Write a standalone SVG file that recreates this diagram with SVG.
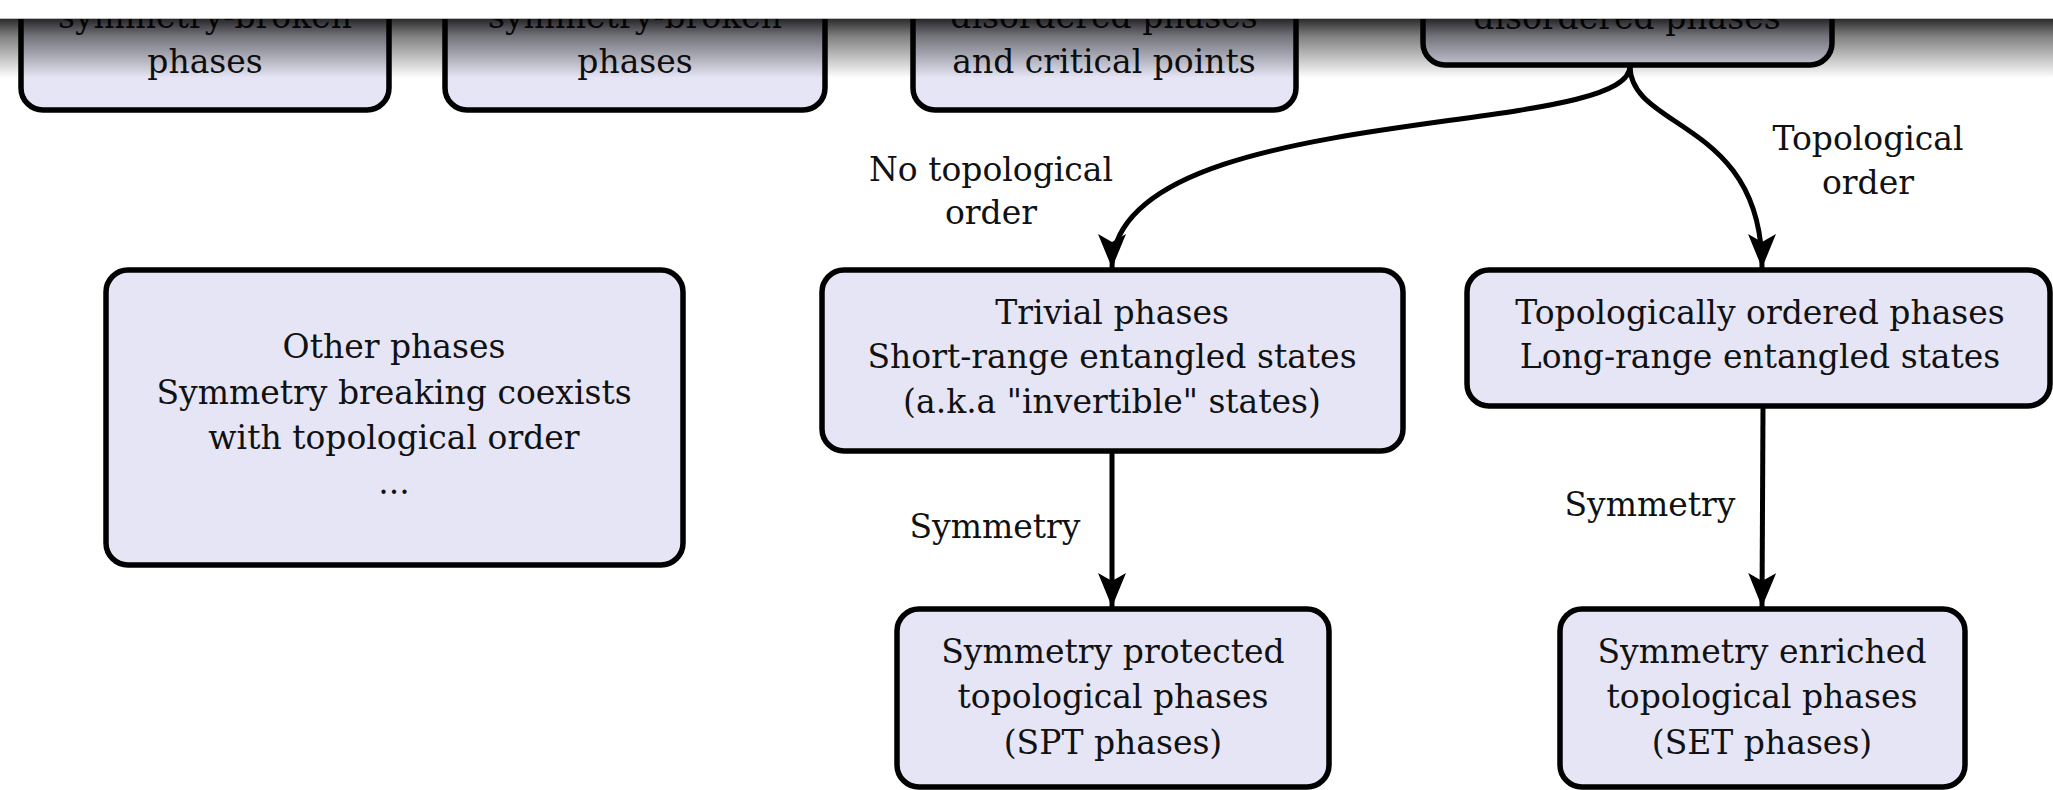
<svg xmlns="http://www.w3.org/2000/svg" width="2053" height="790" viewBox="0 0 2053 790">
<style>
.box{fill:#e5e5f5;stroke:#000;stroke-width:5.5}
.t{font-family:"DejaVu Serif","Liberation Serif",serif;font-size:33px;fill:#111;text-anchor:middle}
.edge{fill:none;stroke:#000;stroke-width:5}
</style>
<defs>
<marker id="ah" markerUnits="userSpaceOnUse" markerWidth="34" markerHeight="28" refX="34" refY="14" orient="auto">
<path d="M0,0 L34,14 L0,28 L8,14 Z" fill="#000"/>
</marker>
<linearGradient id="sh" x1="0" y1="0" x2="0" y2="1">
<stop offset="0" stop-color="#000" stop-opacity="0.85"/>
<stop offset="0.3" stop-color="#000" stop-opacity="0.5"/>
<stop offset="1" stop-color="#000" stop-opacity="0"/>
</linearGradient>
</defs>
<rect width="2053" height="790" fill="#fff"/>
<g id="n1"><rect class="box" x="21" y="-60" width="368" height="170" rx="22"/>
<text class="t" x="205" y="28">symmetry-broken</text><text class="t" x="205" y="73">phases</text></g>
<g id="n2"><rect class="box" x="445" y="-60" width="380" height="170" rx="22"/>
<text class="t" x="635" y="28">symmetry-broken</text><text class="t" x="635" y="73">phases</text></g>
<g id="n3"><rect class="box" x="913" y="-60" width="383" height="170" rx="22"/>
<text class="t" x="1104" y="28">disordered phases</text><text class="t" x="1104" y="73">and critical points</text></g>
<g id="n4"><rect class="box" x="1423" y="-60" width="409" height="125" rx="22"/>
<text class="t" x="1627" y="29">disordered phases</text></g>
<g id="n5"><rect class="box" x="106" y="270" width="577" height="295" rx="22"/>
<text class="t" x="394" y="358">Other phases</text><text class="t" x="394" y="404">Symmetry breaking coexists</text><text class="t" x="394" y="449">with topological order</text><text class="t" x="394" y="494">...</text></g>
<g id="n6"><rect class="box" x="822" y="270" width="581" height="181" rx="22"/>
<text class="t" x="1112" y="324">Trivial phases</text><text class="t" x="1112" y="368">Short-range entangled states</text><text class="t" x="1112" y="413">(a.k.a "invertible" states)</text></g>
<g id="n7"><rect class="box" x="1467" y="270" width="583" height="136" rx="22"/>
<text class="t" x="1760" y="324">Topologically ordered phases</text><text class="t" x="1760" y="368">Long-range entangled states</text></g>
<g id="n8"><rect class="box" x="897" y="609" width="432" height="178" rx="22"/>
<text class="t" x="1113" y="663">Symmetry protected</text><text class="t" x="1113" y="708">topological phases</text><text class="t" x="1113" y="754">(SPT phases)</text></g>
<g id="n9"><rect class="box" x="1560" y="609" width="405" height="178" rx="22"/>
<text class="t" x="1762" y="663">Symmetry enriched</text><text class="t" x="1762" y="708">topological phases</text><text class="t" x="1762" y="754">(SET phases)</text></g>
<g id="edges">
<path class="edge" d="M1630,66 C1630,140 1112,100 1112,268" marker-end="url(#ah)"/>
<path class="edge" d="M1630,66 C1630,130 1762,120 1762,268" marker-end="url(#ah)"/>
<path class="edge" d="M1112,452 L1112,607" marker-end="url(#ah)"/>
<path class="edge" d="M1763,407 L1762,607" marker-end="url(#ah)"/>
<text class="t" x="991" y="181">No topological</text><text class="t" x="991" y="224">order</text>
<text class="t" x="1868" y="150">Topological</text><text class="t" x="1868" y="194">order</text>
<text class="t" x="995" y="538">Symmetry</text>
<text class="t" x="1650" y="516">Symmetry</text>
</g>
<rect x="0" y="18" width="2053" height="60" fill="url(#sh)"/>
<rect x="0" y="0" width="2053" height="18" fill="#fff"/>
<line x1="0" y1="18.5" x2="2053" y2="18.5" stroke="#bbb" stroke-width="1"/>
</svg>
